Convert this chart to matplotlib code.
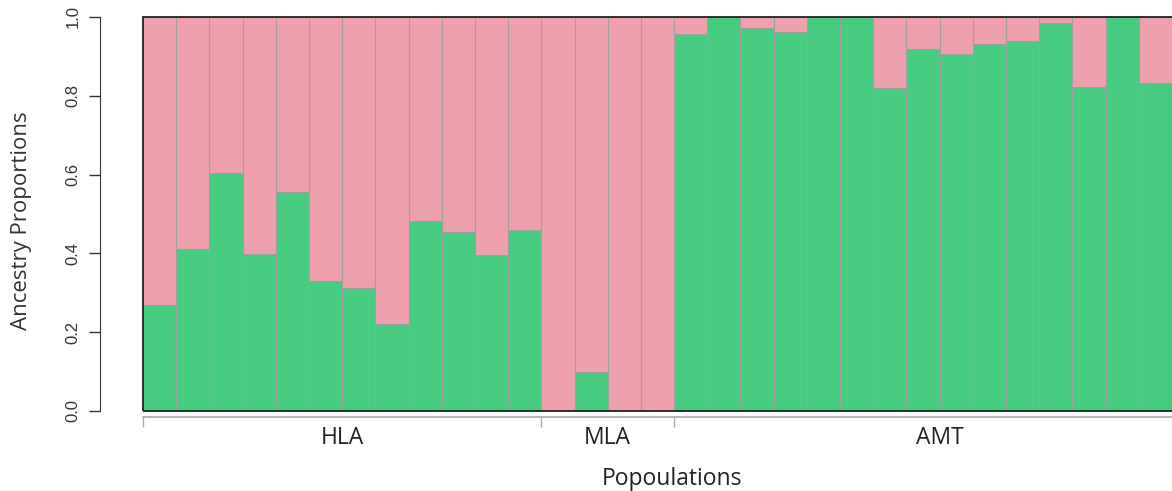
import matplotlib
matplotlib.use("Agg")
import matplotlib.pyplot as plt
from matplotlib.patches import Rectangle
from matplotlib.transforms import blended_transform_factory
import numpy as np

# ---- data ----
groups = ["HLA", "MLA", "AMT"]
group_sizes = [12, 4, 15]
label_positions = [6, 14, 24]          # centre of each group label (bar units)
green_prop = [0.27, 0.41, 0.603, 0.399, 0.555, 0.33, 0.312, 0.221, 0.483, 0.455, 0.395, 0.46,
              0.0, 0.10, 0.0, 0.0,
              0.958, 1.0, 0.972, 0.962, 1.0, 1.0, 0.82, 0.918, 0.906, 0.932, 0.94, 0.985, 0.822, 1.0, 0.832]
pink_prop = [1 - g for g in green_prop]
yticks = [0.0, 0.2, 0.4, 0.6, 0.8, 1.0]

GREEN = "#45CC7F"
PINK = "#EEA1AD"
EDGE = "#A0A0A0"

W, H = 1172, 491
fig = plt.figure(figsize=(W / 100, H / 100), dpi=100)
ax = fig.add_axes([143 / W, 80 / H, 1 - 143 / W, 394 / H])

x = np.arange(len(green_prop)) + 0.5
ax.bar(x, green_prop, width=1.0, color=GREEN, edgecolor=EDGE, linewidth=0.8)
ax.bar(x, pink_prop, bottom=green_prop, width=1.0, color=PINK, edgecolor=EDGE, linewidth=0.8)

ax.set_xlim(0, len(green_prop))
ax.set_ylim(0, 1)

# frame box
ax.add_patch(Rectangle((0, 0), 1.2, 1, transform=ax.transAxes, fill=False,
                       edgecolor="#222222", linewidth=1.3, clip_on=False, zorder=5))

# y axis (offset)
for s in ["top", "right"]:
    ax.spines[s].set_visible(False)
ax.spines["left"].set_position(("outward", 31))
ax.spines["left"].set_bounds(0, 1)
ax.spines["left"].set_color("#333333")
ax.set_yticks(yticks)
ax.set_yticklabels([f"{v:.1f}" for v in yticks], rotation=90, va="center",
                   fontsize=12, family="Liberation Sans", color="#333333")
ax.tick_params(axis="y", length=8, width=1, color="#333333", pad=6)

# x axis (offset, gray)
bounds = np.concatenate([[0], np.cumsum(group_sizes)])
ax.spines["bottom"].set_position(("outward", 4))
ax.spines["bottom"].set_color("#AAAAAA")
ax.spines["bottom"].set_linewidth(1.2)
ax.set_xticks(bounds[:-1])
ax.set_xticklabels([])
ax.tick_params(axis="x", which="major", length=7, width=1, color="#AAAAAA")

tr = blended_transform_factory(ax.transData, fig.transFigure)
for pos, name in zip(label_positions, groups):
    ax.text(pos, 1 - 444 / H, name, transform=tr, ha="center", va="baseline",
            fontsize=16.5, family="Open Sans", color="#222222")

fig.text(22 / W, 1 - 221 / H, "Ancestry Proportions", rotation=90, ha="center", va="center",
         fontsize=16, family="Open Sans", color="#333333")
fig.text(672 / W, 1 - 485 / H, "Popoulations", ha="center", va="baseline",
         fontsize=16.5, family="Open Sans", color="#222222")

fig.savefig("out.png", dpi=100)
